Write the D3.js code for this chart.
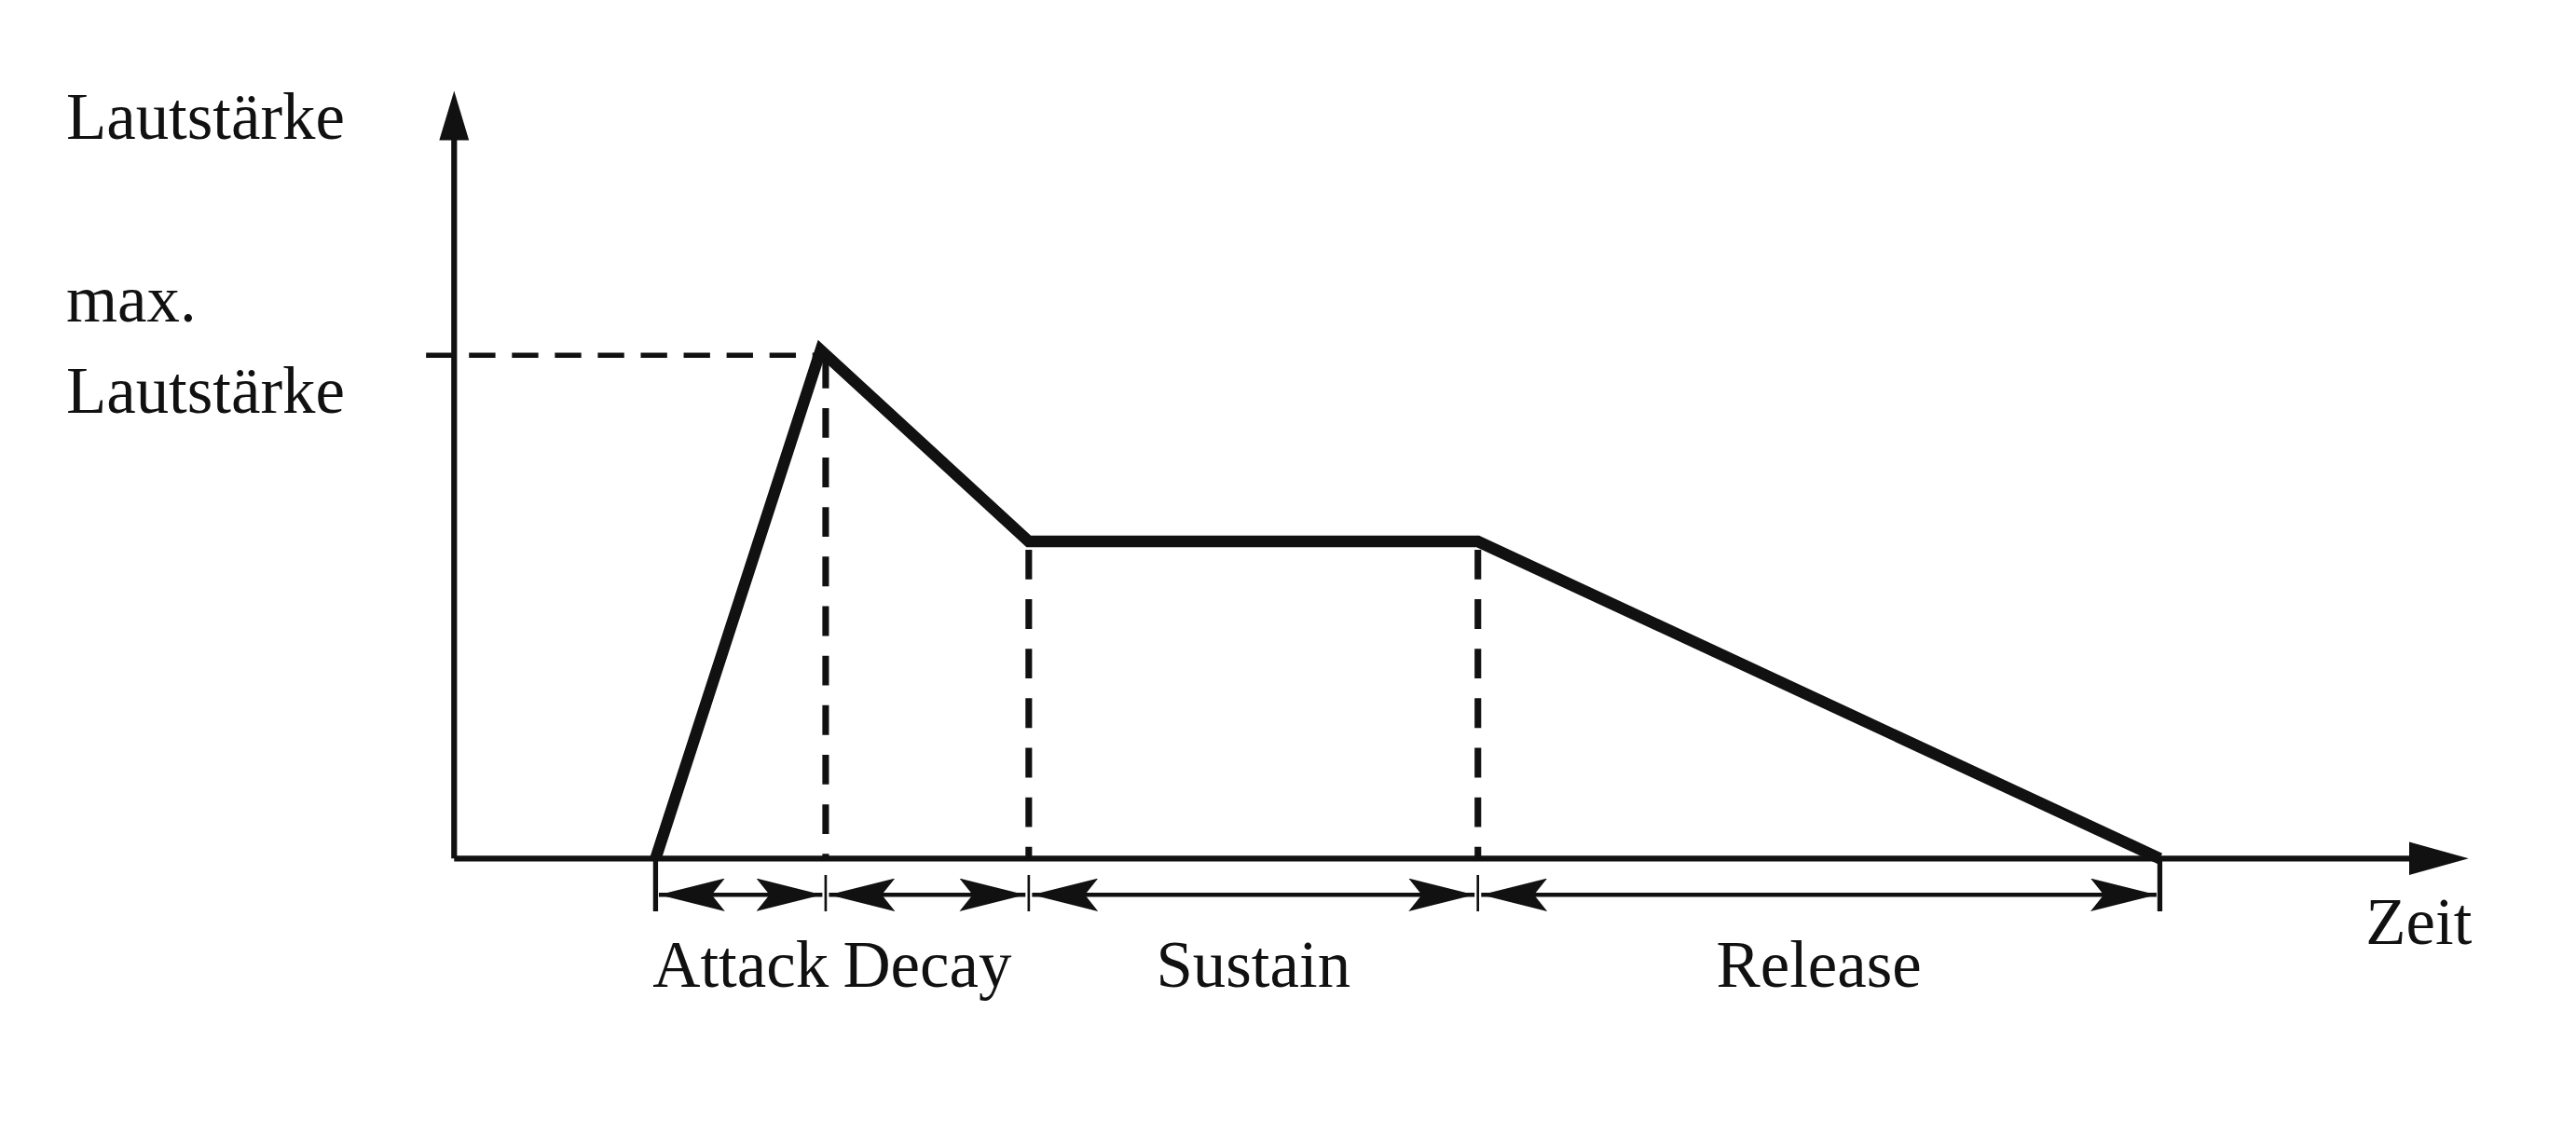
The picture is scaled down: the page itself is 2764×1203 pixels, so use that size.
<!DOCTYPE html>
<html>
<head>
<meta charset="utf-8">
<script src="https://cdn.jsdelivr.net/npm/d3@7"></script>
<style>
  body { margin: 0; background: #fff; }
  text { font-family: "Liberation Serif", serif; fill: #111; }
</style>
</head>
<body>
<div id="chart"></div>
<script>
// envelope data (time units, loudness %)
var phaseNames = ["Attack", "Decay", "Sustain", "Release"];
var phaseTimes = [122, 225, 348, 620, 1033];
var envTimes = [122, 222, 348, 620, 1033];
var envLevels = [0, 66.2, 41.3, 41.3, 0];
var maxLevel = 66.2;

var W = 1560, H = 679;

var svg = d3.select("#chart").append("svg")
  .attr("width", 2764).attr("height", 1203)
  .attr("viewBox", "0 0 " + W + " " + H);

var x = d3.scaleLinear().domain([0, 1220]).range([275, 1495]);
var y = d3.scaleLinear().domain([0, 100]).range([520, 55]);

var marker = svg.append("defs").append("marker")
  .attr("id", "ah").attr("viewBox", "0 0 40 20")
  .attr("refX", 40).attr("refY", 10)
  .attr("markerWidth", 40).attr("markerHeight", 20)
  .attr("markerUnits", "userSpaceOnUse")
  .attr("orient", "auto-start-reverse");
marker.append("path").attr("d", "M0,0 L40,10 L0,20 L8,10 z").attr("fill", "#111");

// axes
svg.append("line").attr("x1", x(0)).attr("y1", y(0)).attr("x2", x(0)).attr("y2", y(100) + 20)
  .attr("stroke", "#111").attr("stroke-width", 3.5);
svg.append("path").attr("d", "M" + (x(0) - 9) + "," + (y(100) + 30) + " L" + x(0) + "," + y(100) + " L" + (x(0) + 9) + "," + (y(100) + 30) + " z").attr("fill", "#111");
svg.append("line").attr("x1", x(0)).attr("y1", y(0)).attr("x2", x(1220) - 25).attr("y2", y(0))
  .attr("stroke", "#111").attr("stroke-width", 3.5);
svg.append("path").attr("d", "M" + (x(1220) - 36) + "," + (y(0) - 10) + " L" + x(1220) + "," + y(0) + " L" + (x(1220) - 36) + "," + (y(0) + 10) + " z").attr("fill", "#111");

// dashed helpers
svg.append("line").attr("x1", x(0) - 17).attr("x2", x(envTimes[1])).attr("y1", y(maxLevel) + 3).attr("y2", y(maxLevel) + 3)
  .attr("stroke", "#111").attr("stroke-width", 3).attr("stroke-dasharray", "16,10");
[1, 2, 3].forEach(function(i) {
  svg.append("line").attr("x1", x(phaseTimes[i])).attr("x2", x(phaseTimes[i]))
    .attr("y1", y(envLevels[i]) + 5).attr("y2", y(0))
    .attr("stroke", "#111").attr("stroke-width", 4).attr("stroke-dasharray", "18,12");
});

// envelope
var line = d3.line().x(function(d, i) { return x(envTimes[i]); }).y(function(d) { return y(d); });
svg.append("path").datum(envLevels).attr("d", line)
  .attr("fill", "none").attr("stroke", "#111").attr("stroke-width", 7).attr("stroke-linejoin", "miter");

// dimension arrows
var dy = 542;
phaseTimes.forEach(function(t, i) {
  var end = (i === 0 || i === phaseTimes.length - 1);
  svg.append("line").attr("x1", x(t)).attr("x2", x(t))
    .attr("y1", end ? 520 : 530).attr("y2", 552)
    .attr("stroke", "#111").attr("stroke-width", end ? 3 : 1.5);
});
for (var i = 0; i < 4; i++) {
  var a = x(phaseTimes[i]), b = x(phaseTimes[i + 1]);
  svg.append("line").attr("x1", a + 2).attr("x2", b - 2).attr("y1", dy).attr("y2", dy)
    .attr("stroke", "#111").attr("stroke-width", 2.5)
    .attr("marker-start", "url(#ah)").attr("marker-end", "url(#ah)");
  svg.append("text").attr("x", (a + b) / 2).attr("y", 598).attr("text-anchor", "middle")
    .attr("font-size", 40).text(phaseNames[i]);
}

// labels
svg.append("text").attr("x", 40).attr("y", 84).attr("font-size", 40).text("Lautstärke");
svg.append("text").attr("x", 40).attr("y", 195).attr("font-size", 40).text("max.");
svg.append("text").attr("x", 40).attr("y", 250).attr("font-size", 40).text("Lautstärke");
svg.append("text").attr("x", 1497).attr("y", 572).attr("text-anchor", "end").attr("font-size", 40).text("Zeit");
</script>
</body>
</html>
